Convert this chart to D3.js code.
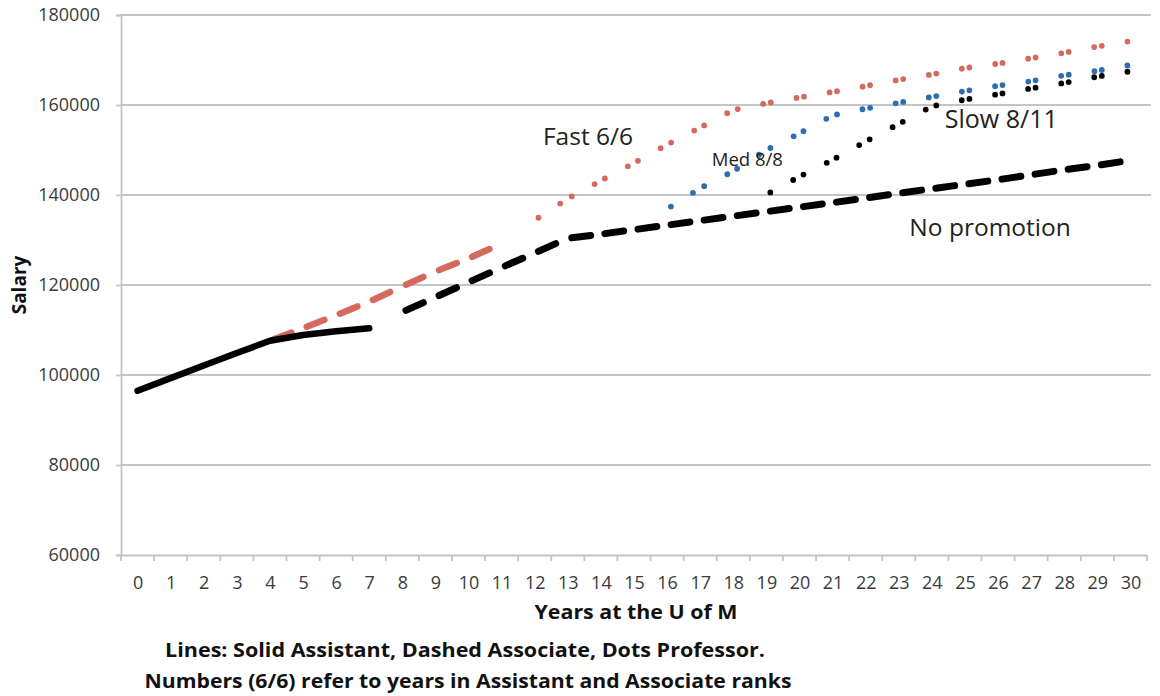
<!DOCTYPE html>
<html><head><meta charset="utf-8">
<script src="https://cdn.jsdelivr.net/npm/d3@7/dist/d3.min.js"></script>
<style>body{margin:0;background:#fff}svg{display:block}</style>
</head><body>
<svg id="chart" width="1160" height="696"></svg>
<script>
// ---------- data ----------
const categories = [0,1,2,3,4,5,6,7,8,9,10,11,12,13,14,15,16,17,18,19,20,21,22,23,24,25,26,27,28,29,30];
const yTicks = [60000,80000,100000,120000,140000,160000,180000];

// Assistant (solid black)
const assistantYears  = [0,1,2,3,4,5,6,7];
const assistantSalary = [96500,99300,102100,104900,107600,108900,109700,110400];

// Associate, fast track (dashed red)
const fastAssocYears  = [4,5,6,7,8,9,10,11];
const fastAssocSalary = [107600,110400,113300,116300,119700,123000,125900,129200];

// Associate, no promotion / slower tracks (dashed black)
const assocYears  = [8,9,10,11,12,13,14,15,16,17,18,19,20,21,22,23,24,25,26,27,28,29,30];
const assocSalary = [114000,117300,120600,123900,127100,130400,131300,132300,133300,134300,135300,136300,
                     137300,138300,139300,140400,141400,142400,143400,144500,145600,146600,147700];

// Professor, fast 6/6 (red dots)
const fastProfYears  = [12,13,14,15,16,17,18,19,20,21,22,23,24,25,26,27,28,29,30];
const fastProfSalary = [134400,139200,143200,147100,151200,155000,158900,160400,161700,162900,164200,
                        165600,166800,168200,169200,170400,171600,173000,174200];

// Professor, med 8/8 (blue dots)
const medProfYears  = [16,17,18,19,20,21,22,23,24,25,26,27,28,29,30];
const medProfSalary = [136900,141500,145300,150000,153700,157700,159200,160500,161800,163100,164300,
                       165300,166600,167600,168900];

// Professor, slow 8/11 (black dots)
const slowProfYears  = [19,20,21,22,23,24,25,26,27,28,29,30];
const slowProfSalary = [140100,144100,147800,151900,155800,159700,161200,162400,163700,164900,166300,167500];

// ---------- layout ----------
const L = 121, R = 1147, T = 15, B = 555;
const FONT = "'Open Sans', 'Noto Sans', sans-serif";
const svg = d3.select('#chart');

const xBand = d3.scaleBand().domain(categories).range([L, R]);
const x = d3.scalePoint().domain(categories).range([L, R]).padding(0.5);
const xLin = d3.scaleLinear().domain([0, 30]).range([x(0), x(30)]);
const y = d3.scaleLinear().domain([60000, 180000]).range([B, T]);

const gridColor = '#c4c4c4';

// grid lines
svg.append('g').selectAll('line').data(yTicks.slice(1)).join('line')
  .attr('x1', L).attr('x2', R + 4).attr('y1', d => y(d)).attr('y2', d => y(d))
  .attr('stroke', gridColor).attr('stroke-width', 1.8);

// y axis
const yAxis = svg.append('g').attr('transform', `translate(${L},0)`)
  .call(d3.axisLeft(y).tickValues(yTicks).tickSize(5).tickPadding(16).tickFormat(d3.format('d')));
yAxis.select('.domain').attr('stroke', gridColor).attr('stroke-width', 1.8);
yAxis.selectAll('.tick line').attr('stroke', gridColor).attr('stroke-width', 1.8);
yAxis.selectAll('.tick text').attr('font-family', FONT).attr('font-size', 18).attr('fill', '#3a3a3a');

// x axis
const xAxis = svg.append('g').attr('transform', `translate(0,${B})`)
  .call(d3.axisBottom(x).tickSize(0).tickPadding(21));
xAxis.select('.domain').attr('stroke', gridColor).attr('stroke-width', 1.8);
xAxis.selectAll('.tick text').attr('font-family', FONT).attr('font-size', 18).attr('fill', '#3a3a3a');
// tick marks at category boundaries
svg.append('g').selectAll('line').data(categories.concat([null])).join('line')
  .attr('x1', (d, i) => i < categories.length ? xBand(d) : R)
  .attr('x2', (d, i) => i < categories.length ? xBand(d) : R)
  .attr('y1', B).attr('y2', B + 6)
  .attr('stroke', gridColor).attr('stroke-width', 1.8);

// ---------- series ----------
const line = d3.line().x(d => x(d[0])).y(d => y(d[1]));
const plot = svg.append('g');

function segments(yrs, vals, color, width, dash, offset) {
  const pts = yrs.map((yr, i) => [yr, vals[i]]);
  plot.append('g').selectAll('path').data(d3.pairs(pts)).join('path')
    .attr('d', d => line(d))
    .attr('fill', 'none').attr('stroke', color).attr('stroke-width', width)
    .attr('stroke-linecap', 'round')
    .attr('stroke-dasharray', dash).attr('stroke-dashoffset', offset);
}

const RED = '#d5695d', BLUE = '#2f6db3', BLACK = '#000';

// dashed associate lines (dash restarts each segment)
segments(fastAssocYears, fastAssocSalary, RED, 6.5, '19 1000', 1015);
segments(assocYears, assocSalary, BLACK, 7, '19 1000', 1015);

// solid assistant line
plot.append('path')
  .datum(assistantYears.map((yr, i) => [yr, assistantSalary[i]]))
  .attr('d', line).attr('fill', 'none').attr('stroke', BLACK)
  .attr('stroke-width', 6.5).attr('stroke-linecap', 'round').attr('stroke-linejoin', 'round');

// dotted professor lines (two round dots per segment)
segments(slowProfYears, slowProfSalary, BLACK, 5.8, '0 26 0 1000', 1021.5);
segments(medProfYears, medProfSalary, BLUE, 5.8, '0 26 0 1000', 1021.5);
segments(fastProfYears, fastProfSalary, RED, 5.8, '0 26 0 1000', 1021.5);

// ---------- annotations ----------
const notes = [
  {text: 'Fast 6/6',     yr: 12.25, val: 151100, size: 24.5},
  {text: 'Med 8/8',      yr: 17.35, val: 146500, size: 18.5},
  {text: 'Slow 8/11',    yr: 24.39, val: 154800, size: 25},
  {text: 'No promotion', yr: 23.32, val: 130900, size: 24.5}
];
svg.append('g').selectAll('text').data(notes).join('text')
  .attr('x', d => xLin(d.yr)).attr('y', d => y(d.val))
  .attr('font-family', FONT).attr('font-size', d => d.size).attr('fill', '#222')
  .text(d => d.text);

// axis titles
function bold(t, xx, yy, w) {
  const el = svg.append('text').attr('x', xx).attr('y', yy).attr('text-anchor', 'middle')
    .attr('font-family', FONT).attr('font-weight', 'bold').attr('font-size', 20).attr('fill', '#111')
    .text(t);
  if (w) el.attr('textLength', w).attr('lengthAdjust', 'spacingAndGlyphs');
  return el;
}
bold('Years at the U of M', 636, 619, 203);
svg.append('text').attr('transform', `translate(26,${(T + B) / 2}) rotate(-90)`).attr('text-anchor', 'middle')
  .attr('font-family', FONT).attr('font-weight', 'bold').attr('font-size', 19).attr('fill', '#111')
  .text('Salary');
bold('Lines: Solid Assistant, Dashed Associate, Dots Professor.', 465, 657, 600);
bold('Numbers (6/6) refer to years in Assistant and Associate ranks', 468, 688, 647);
</script>
</body></html>
